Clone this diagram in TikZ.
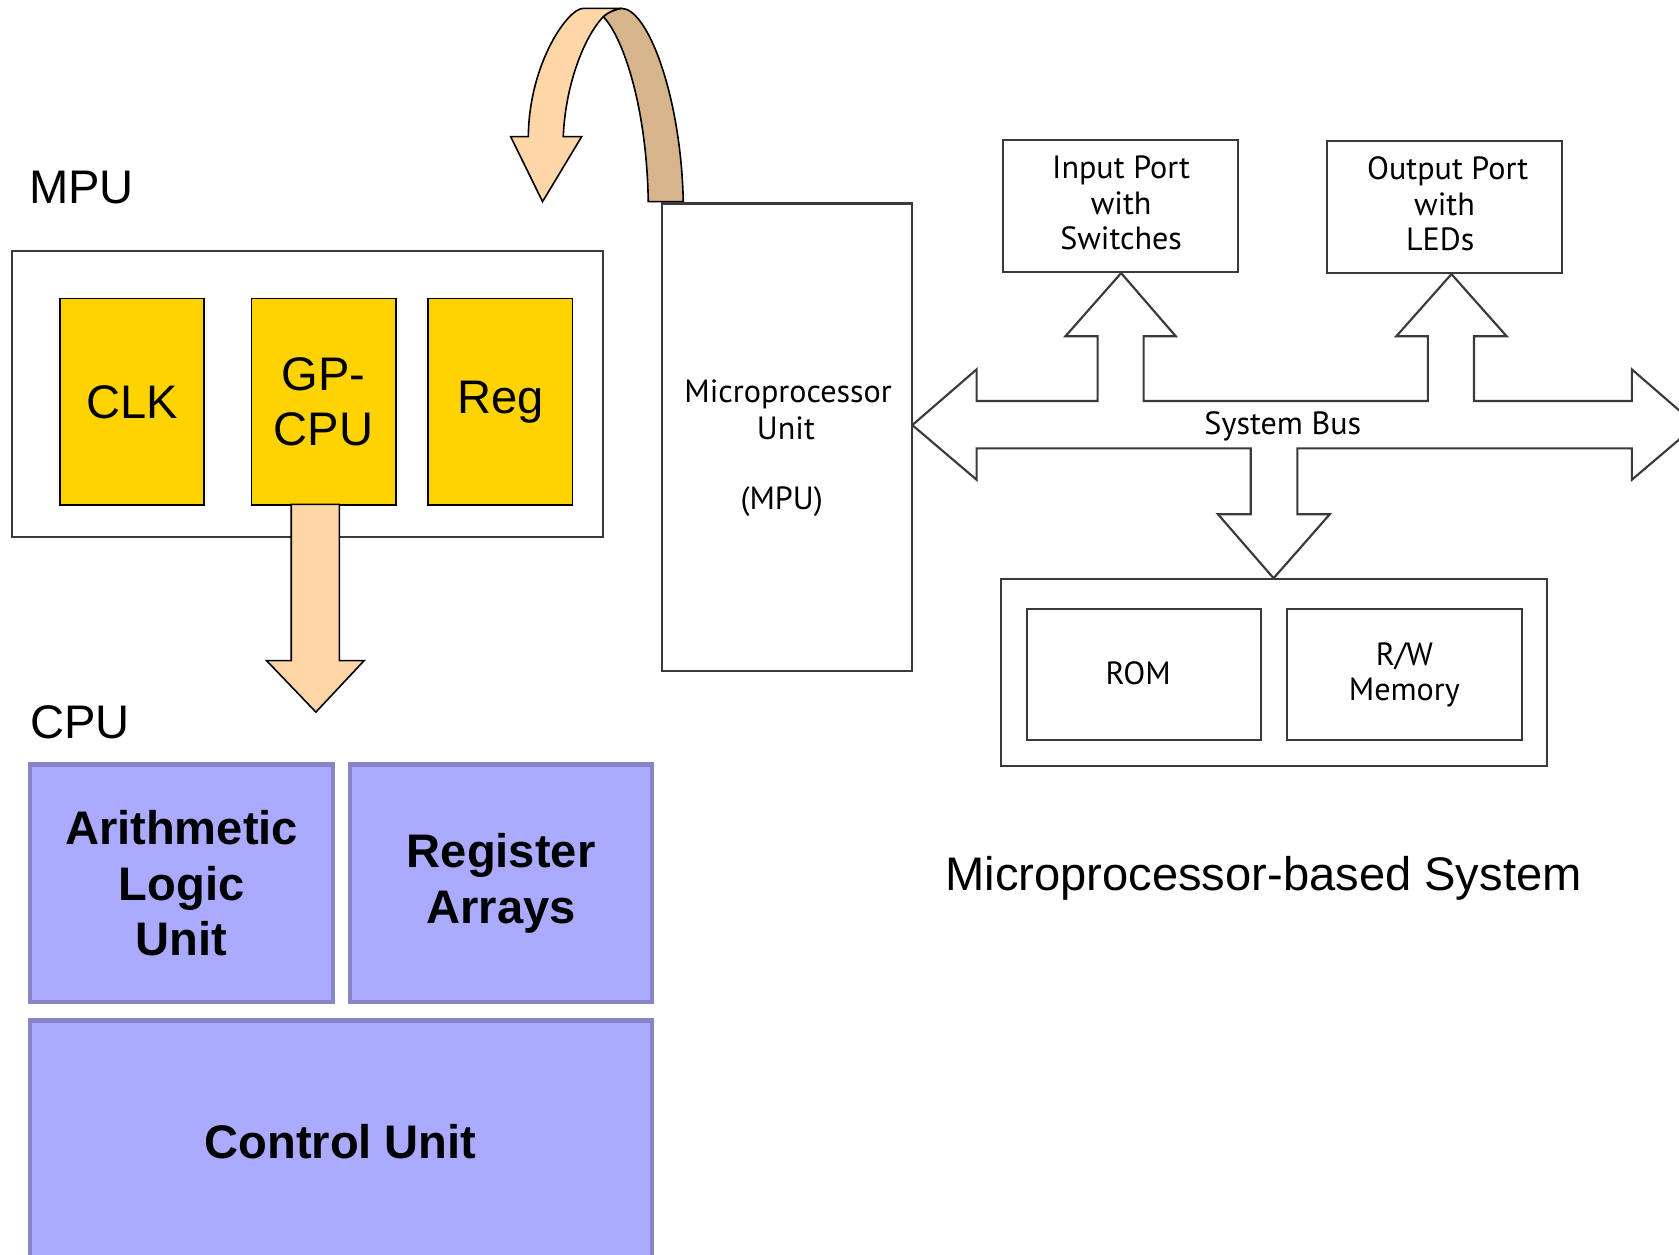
\documentclass[tikz,border=0pt]{standalone}
\usepackage{fontspec}
\setmainfont{Liberation Sans}
\newfontfamily\myriad{PT Sans}
\definecolor{gold}{HTML}{FFD300}
\definecolor{pfill}{HTML}{AAAAFF}
\definecolor{pborder}{HTML}{8585C8}
\definecolor{peachc}{HTML}{FFD6A8}
\definecolor{tanc}{HTML}{D6B48C}
\definecolor{gline}{HTML}{3A3A3A}
\begin{document}
\begin{tikzpicture}[x=1pt,y=-1pt,
  lbl/.style={inner sep=0pt, font=\fontsize{44}{52}\selectfont},
  ybox/.style={draw=black, line width=1.5pt, fill=gold, minimum width=135pt, minimum height=193pt, anchor=north west, inner sep=0pt, align=center, font=\fontsize{44}{52}\selectfont},
  pbox/.style={draw=pborder, line width=4pt, fill=pfill, anchor=north west, inner sep=0pt, align=center, font=\bfseries\fontsize{44}{52}\selectfont},
  wbox/.style={draw=gline, line width=2pt, fill=white, anchor=north west, inner sep=0pt, align=center, font=\myriad\fontsize{30}{33}\selectfont},
  wtext/.style={inner sep=0pt, anchor=base, font=\myriad\fontsize{30}{33}\selectfont},
  blk/.style={draw=gline, line width=2pt, fill=white, line join=miter},
  peach/.style={draw=black, line width=1.5pt, fill=peachc, line join=miter},
]
\useasboundingbox (0,0) rectangle (1568,1172);
\clip (0,0) rectangle (1568,1172);
\fill[white] (0,0) rectangle (1568,1172);

% ---------- MPU (left) ----------
\node[lbl, anchor=base west] (mpulbl) at (27,190) {MPU};
\node[draw=gline, line width=2pt, minimum width=552pt, minimum height=267pt, anchor=north west, inner sep=0pt] (mpuout) at (10.5,233.5) {};
\node[ybox] (clk) at (55,278) {CLK};
\node[ybox] (gpcpu) at (234,278) {GP-\\CPU};
\node[ybox] (reg) at (399,278) {Reg};

% down arrow GP-CPU -> CPU
\draw[peach] (272,471) -- (272,617) -- (249,617) -- (295,665) -- (340,617) -- (317,617) -- (317,471) -- cycle;

% ---------- CPU ----------
\node[lbl, anchor=base west] (cpulbl) at (28,690) {CPU};
\node[pbox, minimum width=283pt, minimum height=222pt] (alu) at (26,712) {Arithmetic\\Logic\\Unit};
\node[pbox, minimum width=282pt, minimum height=222pt] (regarr) at (325,712) {Register\\Arrays};
\node[pbox, minimum width=581pt, minimum height=260pt] (cu) at (26,951) {};
\node[inner sep=0pt, anchor=base, font=\bfseries\fontsize{44}{52}\selectfont] (cutext) at (318,1082) {Control Unit};

% ---------- curved arrow ----------
\draw[peach, fill=tanc] (605.4,188.3) -- (638.1,188.3)
  .. controls (636,90) and (605,8) .. (580.5,7.8)
  .. controls (573,9) and (567,12) .. (563.4,15.6)
  .. controls (582,35) and (604,100) .. (605.4,188.3) -- cycle;
\draw[peach] (493.4,127.6) .. controls (494,60) and (530,7.8) .. (544.7,7.8)
  -- (580.5,7.8)
  .. controls (573,9) and (567,12) .. (563.4,15.6)
  .. controls (545,35) and (528,80) .. (526,127.6)
  -- (543.2,127.6) -- (506.7,188.3) -- (476.9,127.6) -- cycle;

% ---------- Microprocessor-based system ----------
\node[wbox, minimum width=234pt, minimum height=437pt] (mpubox) at (617,189) {};
\node[wtext] (mputxt1) at (736,376) {Microprocessor};
\node[wtext] (mputxt2) at (734,410) {Unit};
\node[wtext] (mputxt3) at (730,476) {(MPU)};

\node[wbox, minimum width=219pt, minimum height=123pt] (inp) at (936,130) {};
\node[wtext] (inptxt1) at (1047,167) {Input Port};
\node[wtext] (inptxt2) at (1047,200) {with};
\node[wtext] (inptxt3) at (1047,233) {Switches};
\node[wbox, minimum width=220pt, minimum height=123pt] (outp) at (1238,131) {};
\node[wtext] (outtxt1) at (1352,168) {Output Port};
\node[wtext] (outtxt2) at (1349,201) {with};
\node[wtext] (outtxt3) at (1345,234) {LEDs};

% system bus
\draw[blk] (852,397) -- (912,345) -- (912,374.5) -- (1025,374.5) -- (1025,314) -- (995,314)
  -- (1047,255) -- (1098,314) -- (1068,314) -- (1068,374.5) -- (1333.5,374.5) -- (1333.5,314)
  -- (1304,314) -- (1355.5,256) -- (1407,314) -- (1376.5,314) -- (1376.5,374.5) -- (1524,374.5)
  -- (1524,345) -- (1584,397) -- (1524,448) -- (1524,418.7) -- (1211.6,418.7) -- (1211.6,480.3)
  -- (1241.8,480.3) -- (1189.4,540) -- (1137.5,480.3) -- (1168,480.3) -- (1168,418.7)
  -- (912,418.7) -- (912,448) -- cycle;
\node[wtext] (sbus) at (1198,406) {System Bus};

\node[wbox, minimum width=510pt, minimum height=174pt] (mem) at (934,540) {};
\node[wbox, minimum width=219pt, minimum height=122pt] (rom) at (958,568) {};
\node[wtext] (romtxt) at (1063,639) {ROM};
\node[wbox, minimum width=219pt, minimum height=122pt] (rw) at (1201,568) {R/W\\Memory};

\node[lbl, anchor=base] (title) at (1180,832) {Microprocessor-based System};
\end{tikzpicture}
\end{document}
